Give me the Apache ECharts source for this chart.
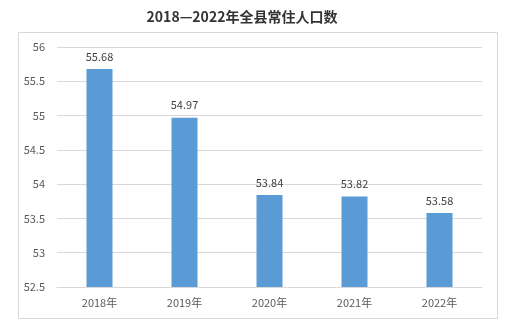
<!DOCTYPE html>
<html>
<head>
<meta charset="utf-8">
<style>
  html, body { margin: 0; padding: 0; background: #fff; }
  #chart { width: 524px; height: 328px; }
</style>
<script src="https://cdn.jsdelivr.net/npm/echarts@6/dist/echarts.min.js"></script>
</head>
<body>
<div id="chart"></div>
<script>
// Resident population per year (10k persons)
const categories = ['2018年', '2019年', '2020年', '2021年', '2022年'];
const population = [55.68, 54.97, 53.84, 53.82, 53.58];
const yTicks = [52.5, 53, 53.5, 54, 54.5, 55, 55.5, 56];

const chart = echarts.init(document.getElementById('chart'));
const font = '"Microsoft YaHei", "Noto Sans CJK SC", sans-serif';

chart.setOption({
  backgroundColor: '#fff',
  animation: false,
  title: {
    text: '2018—2022年全县常住人口数',
    left: 237,
    top: 5,
    textAlign: 'center',
    textStyle: { fontFamily: font, fontSize: 14, fontWeight: 'bold', color: '#333' }
  },
  graphic: [{
    type: 'rect',
    shape: { x: 18.5, y: 32.5, width: 479, height: 286 },
    style: { fill: 'none', stroke: '#d9d9d9', lineWidth: 1 },
    silent: true
  }],
  grid: { left: 57, right: 42, top: 47, bottom: 41 },
  xAxis: {
    type: 'category',
    data: categories,
    axisLine: { show: true, lineStyle: { color: '#d9d9d9' } },
    axisTick: { show: false },
    axisLabel: { color: '#595959', fontSize: 11, fontFamily: font, margin: 10 }
  },
  yAxis: {
    type: 'value',
    min: yTicks[0],
    max: yTicks[yTicks.length - 1],
    interval: 0.5,
    axisLine: { show: false },
    axisTick: { show: false },
    axisLabel: {
      color: '#595959', fontSize: 11, fontFamily: font, margin: 12,
      formatter: v => String(v)
    },
    splitLine: { lineStyle: { color: '#d9d9d9' } }
  },
  series: [{
    type: 'bar',
    data: population,
    barWidth: 26,
    itemStyle: { color: '#5b9bd5' },
    label: {
      show: true, position: 'top', distance: 7,
      color: '#404040', fontSize: 11, fontFamily: font,
      formatter: p => p.value.toFixed(2)
    }
  }]
});
</script>
</body>
</html>
